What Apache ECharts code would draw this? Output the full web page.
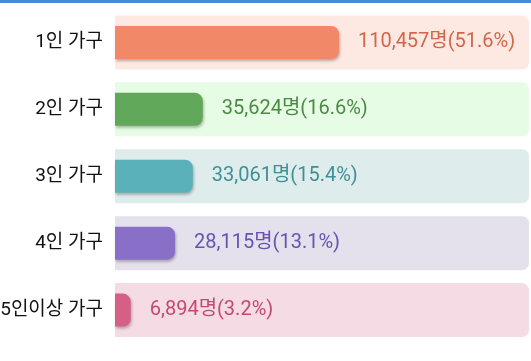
<!DOCTYPE html>
<html>
<head>
<meta charset="utf-8">
<script src="https://cdn.jsdelivr.net/npm/echarts@6/dist/echarts.min.js"></script>
<style>
html,body{margin:0;padding:0;background:#fff;}
#chart{width:531px;height:361px;}
</style>
</head>
<body>
<div id="chart"></div>
<script>
// Categories
const categories = ['1인 가구', '2인 가구', '3인 가구', '4인 가구', '5인이상 가구'];
// Household counts (label text)
const counts = [110457, 35624, 33061, 28115, 6894];
// Shares in percent (label text)
const shares = [51.6, 16.6, 15.4, 13.1, 3.2];
const barLengths = [54.1, 21.2, 18.8, 14.5, 3.8];
// Full track value
const trackMax = 100;

const barColors = ['#f18867', '#62a85a', '#5bb1b9', '#8a6fc9', '#d65f86'];
const trackColors = ['#fee9e2', '#e6fce4', '#deecec', '#e4e0ec', '#f5dce4'];
const labelColors = ['#d0674a', '#4a8a43', '#3f8f99', '#6a52b0', '#c24a72'];

const chart = echarts.init(document.getElementById('chart'), null, {renderer: 'canvas'});

chart.setOption({
  animation: false,
  backgroundColor: '#ffffff',
  graphic: [{
    type: 'rect', left: 0, top: 0, z: 100,
    shape: {width: 531, height: 3},
    style: {fill: '#4a8ad4'}
  }],
  grid: {left: 115, right: 2, top: 9, bottom: 17.5, containLabel: false, outerBoundsMode: 'none'},
  xAxis: {
    type: 'value', min: 0, max: trackMax,
    show: false
  },
  yAxis: [{
    type: 'category', data: categories, inverse: true,
    axisLine: {show: false}, axisTick: {show: false}, splitLine: {show: false},
    axisLabel: {
      margin: 12, color: '#111111', fontSize: 19,
      fontFamily: 'Roboto, "Noto Sans CJK KR", sans-serif'
    }
  }, {
    type: 'category', data: categories, inverse: true, position: 'left',
    show: false
  }],
  series: [
    {
      type: 'bar', silent: true, yAxisIndex: 1,
      barWidth: 54,
      data: categories.map((c, i) => ({
        value: trackMax,
        itemStyle: {color: trackColors[i], borderRadius: [0, 7, 7, 0]}
      })),
      z: 1
    },
    {
      type: 'bar', yAxisIndex: 0,
      barWidth: 33,
      data: barLengths.map((v, i) => ({
        value: v,
        itemStyle: {
          color: barColors[i], borderRadius: [0, 8, 8, 0],
          shadowColor: 'rgba(0,0,0,0.28)', shadowBlur: 3, shadowOffsetX: 1, shadowOffsetY: 2
        },
        label: {color: labelColors[i]}
      })),
      label: {
        show: true, position: 'right', distance: 19,
        fontSize: 20, fontFamily: 'Roboto, "Noto Sans CJK KR", sans-serif',
        formatter: p => counts[p.dataIndex].toLocaleString('en-US') + '명(' + shares[p.dataIndex].toFixed(1) + '%)'
      },
      z: 2
    }
  ]
});
</script>
</body>
</html>
